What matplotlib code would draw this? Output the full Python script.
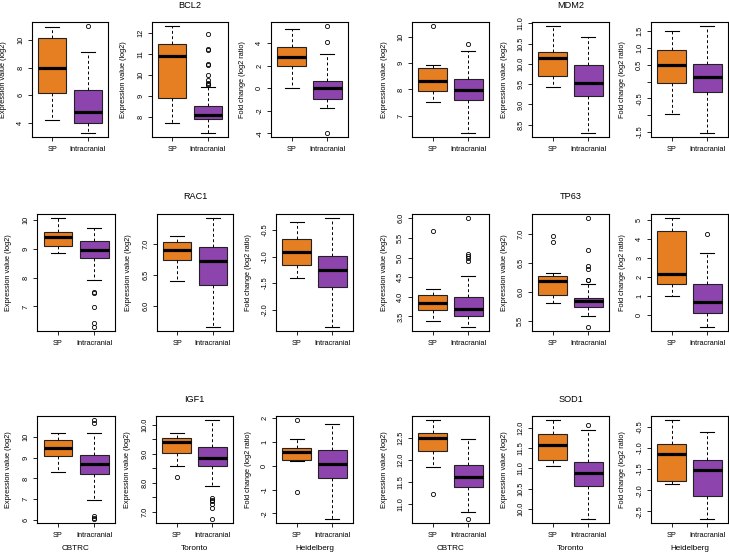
import numpy as np
import matplotlib
matplotlib.use("Agg")
import matplotlib.pyplot as plt

plt.rcParams['font.family'] = ['Liberation Sans', 'DejaVu Sans']

genes = ["BCL2", "MDM2", "RAC1", "TP63", "IGF1", "SOD1"]
datasets = ["CBTRC", "Toronto", "Heidelberg"]
groups = ["SP", "Intracranial"]

# box statistics, one entry per panel (gene x dataset, row-major)
sp_lo = [4.24, 7.73, 0.0, 7.54, 9.43, -0.96, 8.85, 6.40, -1.40,
         3.39, 5.81, 0.96, 8.33, 8.58, 0.19, 11.85, 11.07, -1.86]
sp_q1 = [6.2, 8.89, 1.94, 7.94, 9.71, -0.05, 9.11, 6.75, -1.16,
         3.67, 5.95, 1.62, 9.09, 9.02, 0.26, 12.2, 11.2, -1.79]
sp_med = [8.0, 10.89, 2.75, 8.33, 10.14, 0.49, 9.40, 6.90, -0.905,
          3.85, 6.19, 2.12, 9.47, 9.42, 0.6, 12.49, 11.57, -1.15]
sp_q3 = [10.17, 11.48, 3.65, 8.81, 10.29, 0.95, 9.57, 7.04, -0.66,
         4.05, 6.28, 4.4, 9.83, 9.55, 0.74, 12.61, 11.85, -0.90]
sp_hi = [10.92, 12.3, 5.22, 8.94, 10.93, 1.5, 10.06, 7.14, -0.35,
         4.2, 6.32, 5.09, 10.2, 9.73, 1.11, 12.91, 12.2, -0.34]
sp_out = [[], [], [], [10.41], [], [], [], [], [],
          [5.67], [6.87, 6.97], [], [], [8.18], [1.93, -1.10], [11.22], [], []]

ic_lo = [3.29, 7.27, -1.77, 6.35, 8.30, -1.52, 7.93, 5.66, -2.32,
         3.24, 5.58, -0.64, 6.95, 7.9, -2.24, 10.82, 9.75, -2.68]
ic_q1 = [4.0, 7.92, -0.96, 7.58, 9.21, -0.31, 8.69, 6.33, -1.58,
         3.52, 5.74, 0.07, 8.2, 8.56, -0.51, 11.39, 10.56, -2.14]
ic_med = [4.76, 8.11, 0.0, 7.98, 9.52, 0.12, 8.95, 6.72, -1.25,
          3.68, 5.84, 0.66, 8.70, 8.85, 0.07, 11.61, 10.9, -1.52]
ic_q3 = [6.42, 8.52, 0.64, 8.41, 9.98, 0.51, 9.28, 6.95, -0.99,
         4.0, 5.90, 1.62, 9.14, 9.24, 0.68, 11.88, 11.16, -1.29]
ic_hi = [9.1, 9.45, 3.0, 9.45, 10.67, 1.64, 9.71, 7.42, -0.28,
         4.52, 6.13, 3.28, 10.19, 10.17, 1.78, 12.48, 11.96, -0.63]
ic_out = [[11.0],
          [9.52, 9.55, 9.62, 9.78, 10.0, 10.45, 10.5, 11.2, 11.23, 11.95],
          [5.48, 4.06, -3.94],
          [9.75], [], [],
          [7.50, 7.48, 6.97, 6.41, 6.30], [], [],
          [4.92, 4.98, 5.03, 5.09, 6.0],
          [5.40, 6.20, 6.21, 6.40, 6.45, 6.73, 7.27],
          [4.25],
          [6.06, 6.13, 6.2, 10.67, 10.8],
          [6.74, 7.12, 7.25, 7.35, 7.40, 7.46],
          [], [10.66], [12.07], []]

yticks = [
    [4, 6, 8, 10], [8, 9, 10, 11, 12], [-4, -2, 0, 2, 4],
    [7, 8, 9, 10], [8.5, 9, 9.5, 10, 10.5, 11], [-1.5, -1, -0.5, 0, 0.5, 1, 1.5],
    [7, 8, 9, 10], [6, 6.5, 7], [-2, -1.5, -1, -0.5],
    [3.5, 4, 4.5, 5, 5.5, 6], [5.5, 6, 6.5, 7], [0, 1, 2, 3, 4, 5],
    [6, 7, 8, 9, 10], [7, 7.5, 8, 8.5, 9, 9.5, 10], [-2, -1, 0, 1, 2],
    [11, 11.5, 12, 12.5], [10, 10.5, 11, 11.5, 12], [-2.5, -2, -1.5, -1, -0.5],
]
hidden = {5: [-1, 0], 13: [7.5, 8.5, 9.5]}

colors = ["#E67E22", "#8E44AD"]

W, H = 729, 553
fig = plt.figure(figsize=(W / 100, H / 100), dpi=100)

tops = [22, 214, 416]
bottoms = [137, 331, 523]
lefts = [[32, 152, 271, 412, 532, 651],
         [37, 157, 276, 412, 532, 651],
         [37, 156, 276, 412, 532, 651]]
rights = [[108, 228, 348, 489, 609, 728],
          [115, 233, 353, 489, 609, 728],
          [115, 233, 353, 489, 609, 728]]

for i in range(18):
    r, c = i // 6, i % 6
    l, rt = lefts[r][c], rights[r][c]
    t, b = tops[r], bottoms[r]
    ax = fig.add_axes([l / W, 1 - b / H, (rt - l) / W, (b - t) / H])

    stats = [
        dict(med=sp_med[i], q1=sp_q1[i], q3=sp_q3[i], whislo=sp_lo[i],
             whishi=sp_hi[i], fliers=sp_out[i], label=groups[0]),
        dict(med=ic_med[i], q1=ic_q1[i], q3=ic_q3[i], whislo=ic_lo[i],
             whishi=ic_hi[i], fliers=ic_out[i], label=groups[1]),
    ]
    bp = ax.bxp(stats, positions=[1, 2], widths=0.8, capwidths=0.4,
                patch_artist=True,
                boxprops=dict(edgecolor="#222222", linewidth=0.8),
                medianprops=dict(color="black", linewidth=2.3, solid_capstyle="butt"),
                whiskerprops=dict(color="black", linewidth=0.7, linestyle=(0, (3, 2.5))),
                capprops=dict(color="black", linewidth=0.8),
                flierprops=dict(marker="o", markersize=3, markerfacecolor="none",
                                markeredgecolor="black", markeredgewidth=0.6))
    for patch, col in zip(bp["boxes"], colors):
        patch.set_facecolor(col)

    vals = [sp_lo[i], sp_hi[i], ic_lo[i], ic_hi[i]] + sp_out[i] + ic_out[i]
    lo, hi = min(vals), max(vals)
    pad = (hi - lo) * 0.04
    ax.set_ylim(lo - pad, hi + pad)
    ax.set_xlim(0.42, 2.58)

    tk = yticks[i]
    if all(float(v).is_integer() for v in tk):
        labs = ["%d" % v for v in tk]
    else:
        labs = ["%.1f" % v for v in tk]
    labs = ["" if v in hidden.get(i, []) else s for v, s in zip(tk, labs)]
    ax.set_yticks(tk)
    ax.set_yticklabels(labs, rotation=90, va="center", fontsize=5.3)
    ax.set_xticks([1, 2])
    ax.set_xticklabels(groups, fontsize=5.3)
    ax.tick_params(direction="out", length=2.6, width=0.6, pad=3)
    ax.tick_params(axis="x", pad=4)
    for sp in ax.spines.values():
        sp.set_linewidth(0.8)

    ylab = "Fold change (log2 ratio)" if c % 3 == 2 else "Expression value (log2)"
    ax.text(-28 / (rt - l), 0.5, ylab, transform=ax.transAxes, rotation=90,
            ha="center", va="center", fontsize=5.3)

    if c % 3 == 1:
        gene = genes[r * 2 + c // 3]
        fig.text((l + rt) / 2 / W, 1 - (t - 17) / H, gene,
                 ha="center", va="center", fontsize=6.6)
    if r == 2:
        fig.text((l + rt) / 2 / W, 1 - 548 / H, datasets[c % 3],
                 ha="center", va="center", fontsize=5.9)

fig.savefig("out.png", dpi=100)
